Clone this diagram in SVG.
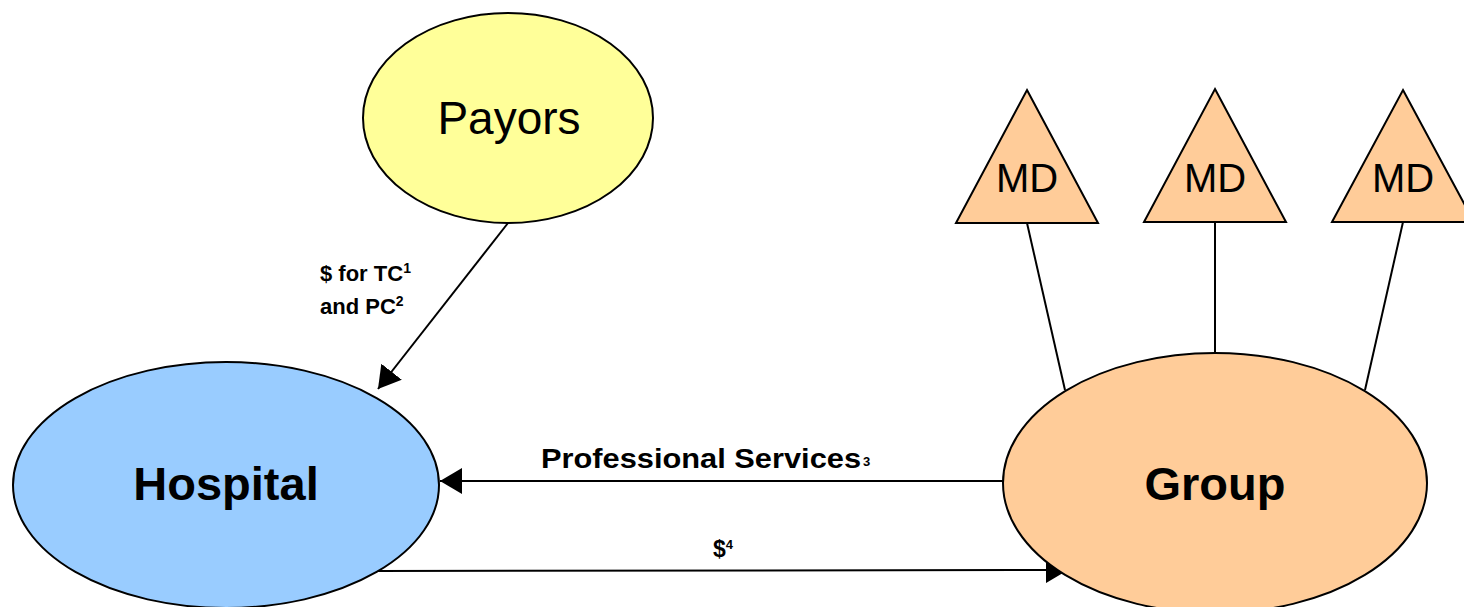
<svg xmlns="http://www.w3.org/2000/svg" width="1464" height="607" viewBox="0 0 1464 607">
<defs>
<style>
.node{stroke:#000;stroke-width:2}
.conn{stroke:#000;stroke-width:2;fill:none}
.t{font-family:"Liberation Sans",Arial,sans-serif;fill:#000}
.b{font-weight:bold}
</style>
<marker id="ah" viewBox="0 0 22 26" refX="22" refY="13" markerWidth="22" markerHeight="26" markerUnits="userSpaceOnUse" orient="auto">
<path d="M0,0 L22,13 L0,26 Z" fill="#000"/>
</marker>
</defs>
<rect width="1464" height="607" fill="#fff"/>
<g id="connectors">
<line class="conn" x1="508" y1="223" x2="378" y2="389" marker-end="url(#ah)"/>
<line class="conn" x1="1003" y1="481" x2="440" y2="481" marker-end="url(#ah)"/>
<line class="conn" x1="376" y1="571" x2="1068" y2="570" marker-end="url(#ah)"/>
<line class="conn" x1="1027" y1="223" x2="1065" y2="390"/>
<line class="conn" x1="1215" y1="222" x2="1215" y2="353"/>
<line class="conn" x1="1403" y1="222" x2="1365" y2="390"/>
<text class="t b" x="320" y="281" font-size="22">$ for TC<tspan font-size="14" dy="-8">1</tspan></text>
<text class="t b" x="320" y="314" font-size="22">and PC<tspan font-size="14" dy="-8">2</tspan></text>
<text class="t b" x="541" y="468" font-size="28"><tspan textLength="320" lengthAdjust="spacingAndGlyphs">Professional Services</tspan><tspan font-size="13" dy="-2" dx="2">3</tspan></text>
<text class="t b" x="713" y="557" font-size="23">$<tspan font-size="13" dy="-8">4</tspan></text>
</g>
<g id="payors">
<ellipse class="node" cx="508" cy="118" rx="145" ry="105" fill="#ffff99"/>
<text class="t" x="509" y="134" font-size="46" text-anchor="middle">Payors</text>
</g>
<g id="hospital">
<ellipse class="node" cx="226" cy="485" rx="213" ry="123" fill="#99ccff"/>
<text class="t b" x="226" y="500" font-size="47" text-anchor="middle">Hospital</text>
</g>
<g id="group">
<ellipse class="node" cx="1215" cy="483" rx="212" ry="130" fill="#ffcc99"/>
<text class="t b" x="1215" y="500" font-size="47" text-anchor="middle">Group</text>
</g>
<g id="md1">
<polygon class="node" points="1027,90 1098,223 956,223" fill="#ffcc99"/>
<text class="t" x="1027" y="192" font-size="40" text-anchor="middle">MD</text>
</g>
<g id="md2">
<polygon class="node" points="1215,89 1286,222 1144,222" fill="#ffcc99"/>
<text class="t" x="1215" y="192" font-size="40" text-anchor="middle">MD</text>
</g>
<g id="md3">
<polygon class="node" points="1403,90 1474,222 1332,222" fill="#ffcc99"/>
<text class="t" x="1403" y="192" font-size="40" text-anchor="middle">MD</text>
</g>
</svg>
